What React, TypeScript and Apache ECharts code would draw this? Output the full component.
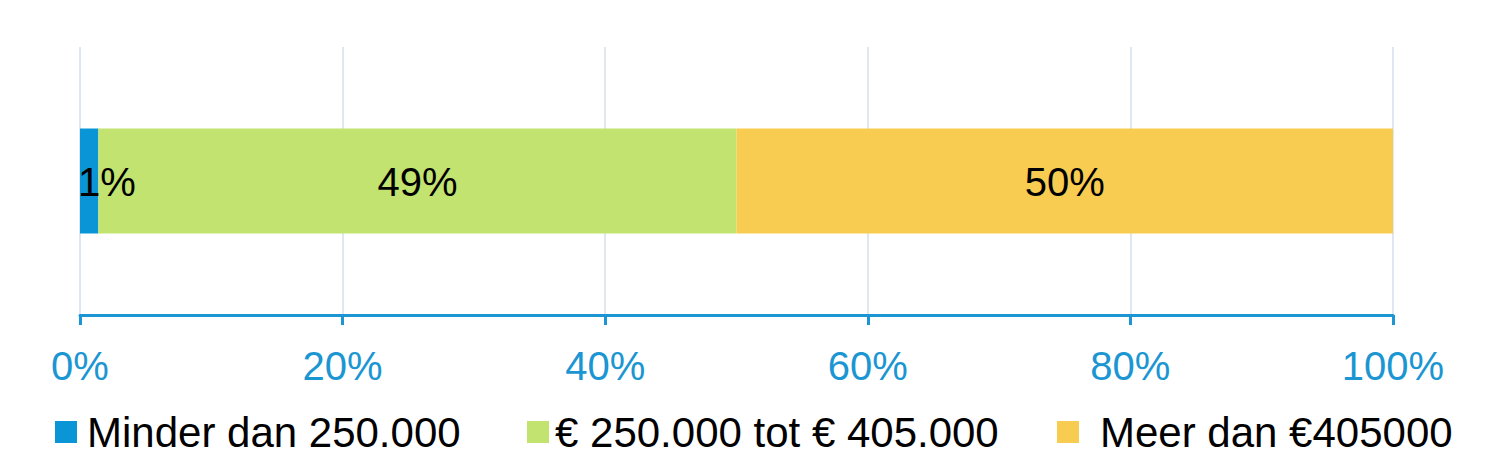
import React, { useEffect, useRef } from "react";
import * as echarts from "echarts";

const categories = [""];
const seriesNames = ["Minder dan 250.000", "€ 250.000 tot € 405.000", "Meer dan €405000"];
const lowValues = [1.4];
const midValues = [48.6];
const highValues = [50.0];
const barLabels = ["1%", "49%", "50%"];
const tickValues = [0, 20, 40, 60, 80, 100];

const colors = ["#0a96d6", "#c2e36f", "#f7cc50"];
const axisBlue = "#1b96d2";
const FONT = "'Liberation Sans', Arial, Helvetica, sans-serif";

export default function App() {
  const ref = useRef<HTMLDivElement>(null);
  useEffect(() => {
    document.body.style.margin = "0";
    if (!ref.current) return;
    const chart = echarts.init(ref.current, undefined, { renderer: "svg" });
    const values = [lowValues, midValues, highValues];
    const legendPos = [
      { left: 55, pad: 5 },
      { left: 527, pad: 1 },
      { left: 1057, pad: 16 },
    ];
    chart.setOption({
      animation: false,
      backgroundColor: "#ffffff",
      grid: { left: 80, right: 104, top: 47, bottom: 145, containLabel: false },
      xAxis: {
        type: "value",
        min: tickValues[0],
        max: tickValues[tickValues.length - 1],
        interval: tickValues[1] - tickValues[0],
        axisLine: { show: true, lineStyle: { color: axisBlue, width: 3 } },
        axisTick: { show: true, length: 10, lineStyle: { color: axisBlue, width: 3 } },
        axisLabel: {
          formatter: "{value}%",
          color: axisBlue,
          fontSize: 40,
          fontFamily: FONT,
          margin: 31,
        },
        splitLine: { show: true, lineStyle: { color: "#dfe7f1", width: 2 } },
      },
      yAxis: {
        type: "category",
        data: categories,
        axisLine: { show: false },
        axisTick: { show: false },
        axisLabel: { show: false },
        splitLine: { show: false },
      },
      legend: seriesNames.map((name, i) => ({
        data: [name],
        left: legendPos[i].left,
        top: 411,
        padding: 0,
        icon: "rect",
        itemWidth: 22,
        itemHeight: 22,
        selectedMode: false,
        textStyle: {
          color: "#000",
          fontSize: 42,
          fontFamily: FONT,
          padding: [0, 0, 0, legendPos[i].pad],
        },
      })),
      series: seriesNames.map((name, i) => ({
        name,
        type: "bar",
        stack: "total",
        barWidth: 105,
        data: values[i],
        itemStyle: { color: colors[i] },
        label: {
          show: true,
          position: i === 0 ? "insideLeft" : "inside",
          distance: 0,
          offset: i === 0 ? [-2, 1] : [0, 1],
          formatter: () => barLabels[i],
          color: "#000",
          fontSize: 40,
          fontFamily: FONT,
        },
      })),
    });
    return () => chart.dispose();
  }, []);
  return <div ref={ref} style={{ width: 1497, height: 460 }} />;
}
